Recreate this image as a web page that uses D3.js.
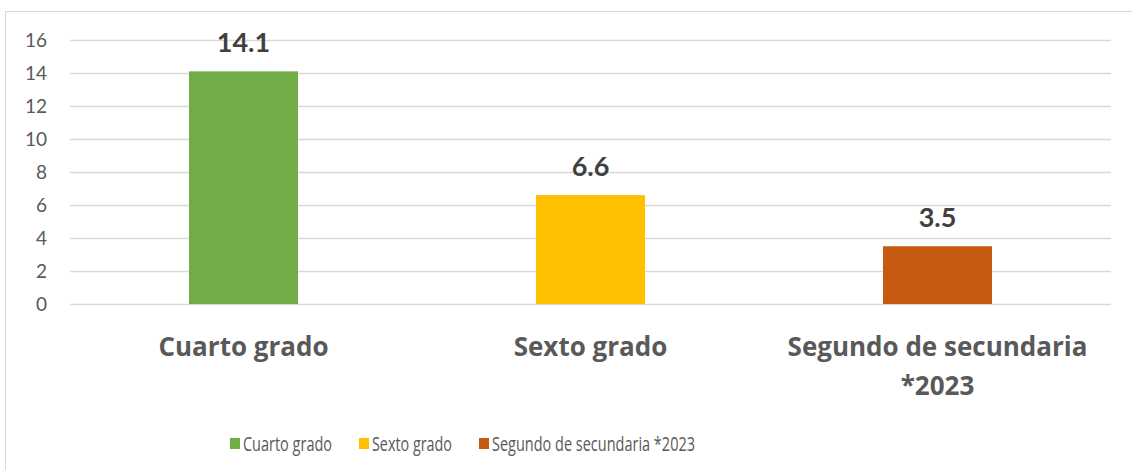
<!DOCTYPE html>
<html lang="es">
  <head>
    <meta charset="UTF-8" />
    <title>Grados</title>
    <script src="https://cdn.jsdelivr.net/npm/d3@7"></script>
    <style>
      body { margin: 0; background: #fff; }
      svg { display: block; font-family: "Open Sans", sans-serif; }
    </style>
  </head>
  <body>
    <div id="main-div"></div>
    <script>
      const categories = ["Cuarto grado", "Sexto grado", "Segundo de secundaria *2023"];
      const axisLabels = [["Cuarto grado"], ["Sexto grado"], ["Segundo de secundaria", "*2023"]];
      const values = [14.1, 6.6, 3.5];
      const colors = ["#70ad47", "#ffc000", "#c55a11"];
      const yTicks = [0, 2, 4, 6, 8, 10, 12, 14, 16];

      const W = 1132, H = 470;
      const svg = d3.select("#main-div").append("svg")
        .attr("width", W).attr("height", H);

      // chart frame
      svg.append("rect")
        .attr("x", 5.5).attr("y", 11.5)
        .attr("width", W + 10).attr("height", H)
        .attr("fill", "#fff").attr("stroke", "#d9d9d9");

      const plotLeft = 70, plotRight = 1111, plotTop = 40, plotBottom = 304;

      const x = d3.scaleBand().domain(categories).range([plotLeft, plotRight])
        .paddingInner(0.686).paddingOuter(0.343);
      const y = d3.scaleLinear().domain([0, 16]).range([plotBottom, plotTop]);

      // gridlines
      svg.append("g").selectAll("line").data(yTicks).join("line")
        .attr("x1", plotLeft).attr("x2", plotRight)
        .attr("y1", d => Math.round(y(d)) + 0.5).attr("y2", d => Math.round(y(d)) + 0.5)
        .attr("stroke", "#d9d9d9").attr("stroke-width", 1.3);

      // y axis labels
      const yAxis = svg.append("g")
        .attr("transform", "translate(" + 47 + ",0)")
        .call(d3.axisLeft(y).tickValues(yTicks).tickSize(0).tickPadding(0));
      yAxis.select(".domain").remove();
      yAxis.selectAll("text")
        .attr("font-family", "Lato, sans-serif")
        .attr("font-size", 19).attr("fill", "#595959");

      // bars
      svg.append("g").selectAll("rect").data(values).join("rect")
        .attr("x", (d, i) => x(categories[i]))
        .attr("width", x.bandwidth())
        .attr("y", d => y(d))
        .attr("height", d => y(0) - y(d))
        .attr("fill", (d, i) => colors[i]);

      // value labels
      svg.append("g").selectAll("text").data(values).join("text")
        .attr("x", (d, i) => x(categories[i]) + x.bandwidth() / 2)
        .attr("y", d => y(d) - 19.5)
        .attr("text-anchor", "middle")
        .attr("font-family", "Lato, sans-serif")
        .attr("font-size", 27).attr("font-weight", "bold")
        .attr("fill", "#404040")
        .text(d => d.toFixed(1));

      // category labels
      const cat = svg.append("g").selectAll("text").data(categories).join("text")
        .attr("x", d => x(d) + x.bandwidth() / 2)
        .attr("y", 356)
        .attr("text-anchor", "middle")
        .attr("font-size", 26).attr("font-weight", "bold")
        .attr("fill", "#595959");
      cat.each(function (d, i) {
        d3.select(this).selectAll("tspan").data(axisLabels[i]).join("tspan")
          .attr("x", x(d) + x.bandwidth() / 2)
          .attr("dy", (t, j) => j === 0 ? 0 : 39)
          .text(t => t);
      });

      // legend
      const legendX = [230, 359, 479];
      const legendW = [89, 80, 203];
      const legend = svg.append("g").selectAll("g").data(categories).join("g")
        .attr("transform", (d, i) => "translate(" + legendX[i] + ",438)");
      legend.append("rect").attr("width", 10).attr("height", 11)
        .attr("fill", (d, i) => colors[i]);
      legend.append("text").attr("x", 13).attr("y", 12.5)
        .attr("font-family", "'Liberation Sans Narrow', 'Open Sans', sans-serif")
        .attr("font-size", 19.5).attr("fill", "#595959")
        .attr("textLength", (d, i) => legendW[i])
        .attr("lengthAdjust", "spacingAndGlyphs")
        .text(d => d);
    </script>
  </body>
</html>
